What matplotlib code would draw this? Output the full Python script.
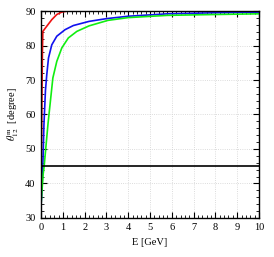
import matplotlib.pyplot as plt
from matplotlib.ticker import MultipleLocator

plt.rcParams['font.family'] = ['Liberation Serif', 'DejaVu Serif']
plt.rcParams['mathtext.fontset'] = 'stix'

# energies [GeV] and mixing angles [degree]
e_red = [0.0, 0.03, 0.06, 0.08, 0.26, 0.49, 0.72, 0.95, 1.2, 2.0, 5.0, 10.0]
th_red = [34.0, 60.0, 78.0, 84.1, 85.6, 87.5, 89.0, 89.7, 90.0, 90.0, 90.0, 90.0]

e_blue = [0.0, 0.04, 0.08, 0.13, 0.2, 0.26, 0.34, 0.49, 0.72, 1.1, 1.48, 2.2, 3.0, 4.0, 5.8, 8.0, 10.0]
th_blue = [34.0, 38.0, 45.0, 57.0, 67.0, 71.5, 76.4, 80.2, 82.7, 84.6, 85.8, 87.0, 87.8, 88.5, 89.2, 89.5, 89.7]

e_green = [0.0, 0.09, 0.14, 0.32, 0.54, 0.72, 0.95, 1.25, 1.64, 2.2, 3.07, 4.0, 5.8, 8.0, 10.0]
th_green = [34.0, 42.5, 45.0, 57.5, 70.6, 75.4, 79.3, 82.2, 84.1, 85.7, 87.3, 88.1, 88.75, 89.0, 89.2]

e_ref = [0.0, 10.0]
th_ref = [45.0, 45.0]

fig = plt.figure(figsize=(2.74, 2.57), dpi=100)
ax = fig.add_axes([0.150, 0.152, 0.795, 0.805])

ax.plot(e_red, th_red, color='#ee1111', linewidth=1.2)
ax.plot(e_blue, th_blue, color='#1111ee', linewidth=1.2)
ax.plot(e_green, th_green, color='#11ee11', linewidth=1.2)
ax.plot(e_ref, th_ref, color='black', linewidth=1.2)

ax.set_xlim(0, 10)
ax.set_ylim(30, 90)
ax.xaxis.set_major_locator(MultipleLocator(1))
ax.xaxis.set_minor_locator(MultipleLocator(0.2))
ax.yaxis.set_major_locator(MultipleLocator(10))
ax.yaxis.set_minor_locator(MultipleLocator(2))
ax.tick_params(which='both', direction='in', top=True, right=True, labelsize=7.5, pad=4)
ax.tick_params(which='major', length=4, width=0.8)
ax.tick_params(which='minor', length=2, width=0.6)
ax.grid(True, which='major', color='#d0d0d0', linestyle=':', linewidth=0.6)
for sp in ax.spines.values():
    sp.set_linewidth(1.0)

ax.set_xlabel('E [GeV]', fontsize=7.5)
ax.set_ylabel(r'$\theta^{\rm m}_{12}$  [degree]', fontsize=7.5)

fig.savefig('out.png', dpi=100)
